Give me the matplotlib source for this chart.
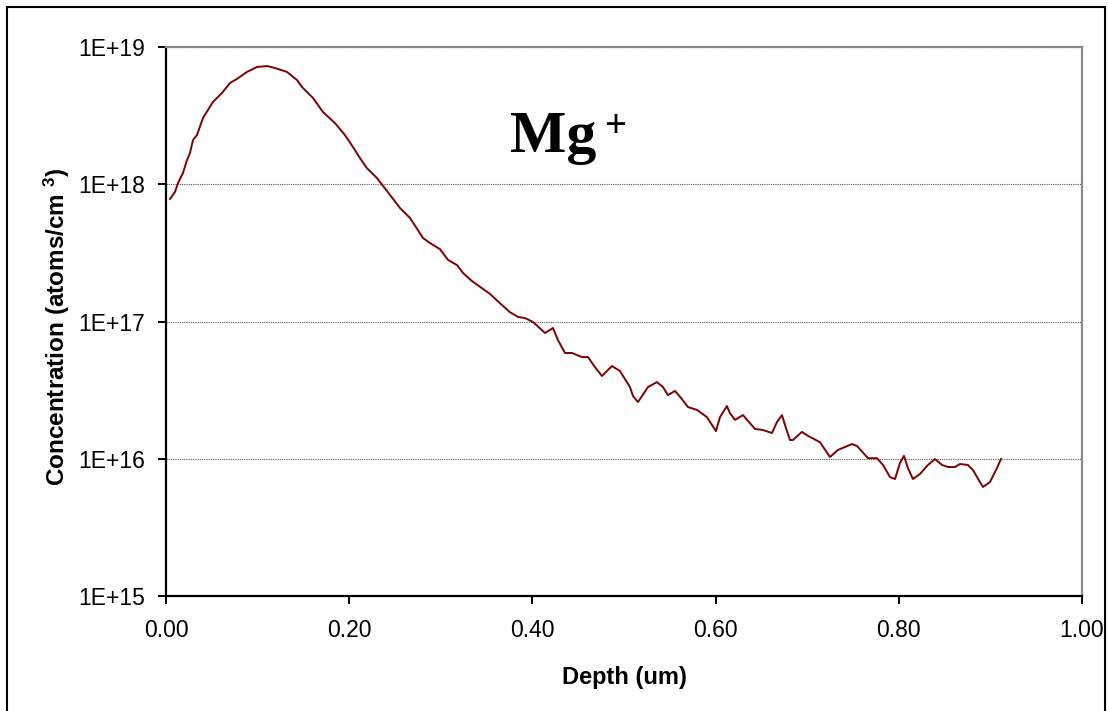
import math
import matplotlib
matplotlib.use("Agg")
import matplotlib.pyplot as plt
from matplotlib.ticker import FixedLocator, FuncFormatter, NullLocator
from matplotlib.patches import Rectangle

plt.rcParams["font.family"] = ["Liberation Sans", "DejaVu Sans"]
plt.rcParams["mathtext.fontset"] = "custom"
plt.rcParams["mathtext.rm"] = "Liberation Sans:bold"
plt.rcParams["mathtext.it"] = "Liberation Sans:bold"
plt.rcParams["mathtext.bf"] = "Liberation Sans:bold"

# SIMS 深度剖面数据 (Mg+)
depth = [0.0044, 0.0098, 0.0131, 0.0186, 0.0229, 0.0262, 0.0295, 0.0338, 0.0404, 0.0513,
         0.0611, 0.0699, 0.0775, 0.0884, 0.0993, 0.1103, 0.1190, 0.1321, 0.1430, 0.1485,
         0.1605, 0.1714, 0.1845, 0.1954, 0.2041, 0.2118, 0.2194, 0.2303, 0.2413, 0.2555,
         0.2664, 0.2806, 0.2882, 0.2991, 0.3079, 0.3177, 0.3242, 0.3341, 0.3537, 0.3646,
         0.3755, 0.3843, 0.3919, 0.4007, 0.4138, 0.4225, 0.4279, 0.4356, 0.4432, 0.4541,
         0.4607, 0.4683, 0.4760, 0.4869, 0.4956, 0.5066, 0.5098, 0.5153, 0.5262, 0.5360,
         0.5426, 0.5480, 0.5557, 0.5633, 0.5699, 0.5797, 0.5906, 0.6004, 0.6048, 0.6124,
         0.6157, 0.6212, 0.6299, 0.6430, 0.6518, 0.6616, 0.6670, 0.6725, 0.6769, 0.6812,
         0.6845, 0.6943, 0.7009, 0.7140, 0.7249, 0.7336, 0.7489, 0.7544, 0.7664, 0.7762,
         0.7828, 0.7904, 0.7959, 0.8013, 0.8057, 0.8100, 0.8155, 0.8231, 0.8319, 0.8395,
         0.8472, 0.8537, 0.8614, 0.8668, 0.8755, 0.8810, 0.8886, 0.8919, 0.8996, 0.9072,
         0.9116]
conc = [7.81e17, 8.78e17, 1.02e18, 1.21e18, 1.50e18, 1.69e18, 2.10e18, 2.28e18, 3.04e18, 3.98e18,
        4.62e18, 5.47e18, 5.85e18, 6.58e18, 7.15e18, 7.27e18, 7.03e18, 6.58e18, 5.75e18, 5.11e18,
        4.25e18, 3.36e18, 2.79e18, 2.28e18, 1.87e18, 1.55e18, 1.31e18, 1.11e18, 8.93e17, 6.71e17,
        5.68e17, 4.06e17, 3.73e17, 3.37e17, 2.81e17, 2.58e17, 2.26e17, 1.97e17, 1.59e17, 1.36e17,
        1.17e17, 1.08e17, 1.06e17, 9.92e16, 8.25e16, 8.97e16, 7.33e16, 5.90e16, 5.90e16, 5.51e16,
        5.51e16, 4.66e16, 4.01e16, 4.74e16, 4.36e16, 3.33e16, 2.87e16, 2.59e16, 3.33e16, 3.62e16,
        3.33e16, 2.91e16, 3.12e16, 2.72e16, 2.38e16, 2.27e16, 2.01e16, 1.59e16, 2.01e16, 2.42e16,
        2.15e16, 1.92e16, 2.08e16, 1.65e16, 1.62e16, 1.54e16, 1.85e16, 2.08e16, 1.67e16, 1.37e16,
        1.37e16, 1.57e16, 1.47e16, 1.32e16, 1.03e16, 1.16e16, 1.28e16, 1.24e16, 1.01e16, 1.01e16,
        9.01e15, 7.36e15, 7.12e15, 9.31e15, 1.05e16, 8.56e15, 7.12e15, 7.74e15, 9.01e15, 9.96e15,
        9.01e15, 8.71e15, 8.71e15, 9.16e15, 9.01e15, 8.28e15, 6.77e15, 6.23e15, 6.77e15, 8.56e15,
        9.96e15]

x_ticks = [0.0, 0.2, 0.4, 0.6, 0.8, 1.0]
y_ticks = [1e15, 1e16, 1e17, 1e18, 1e19]

fig = plt.figure(figsize=(11.08, 7.11), dpi=100)
ax = fig.add_axes([0.1498, 0.1617, 0.8267, 0.7722])

ax.plot(depth, conc, color='#800000', linewidth=1.4)

ax.set_yscale('log')
ax.set_xlim(0, 1)
ax.set_ylim(1e15, 1e19)
ax.xaxis.set_major_locator(FixedLocator(x_ticks))
ax.yaxis.set_major_locator(FixedLocator(y_ticks))
ax.yaxis.set_minor_locator(NullLocator())
ax.xaxis.set_major_formatter(FuncFormatter(lambda v, p: '%.2f' % v))
ax.yaxis.set_major_formatter(FuncFormatter(lambda v, p: '1E+%d' % round(math.log10(v))))
ax.tick_params(axis='both', direction='out', length=5.8, width=1.4, labelsize=16.5)
ax.tick_params(axis='x', pad=11)
ax.tick_params(axis='y', pad=9.5)

# 网格线 (点线)
ax.yaxis.grid(True, linestyle=(0, (1, 1)), color='#555555', linewidth=0.8)
ax.set_axisbelow(True)

for s in ['left', 'bottom']:
    ax.spines[s].set_color('black')
    ax.spines[s].set_linewidth(1.6)
for s in ['top', 'right']:
    ax.spines[s].set_color('#8c8c8c')
    ax.spines[s].set_linewidth(1.6)

ax.set_xlabel('Depth (um)', fontsize=17, fontweight='bold', labelpad=17)
ax.set_ylabel('Concentration (atoms/cm $^{3}$)', fontsize=17.5, fontweight='bold')
ax.yaxis.set_label_coords(-0.103, 0.49)

ax.text(0.3755, 0.8087, 'Mg', transform=ax.transAxes, family=['Liberation Serif'],
        fontweight='bold', fontsize=43, va='baseline', ha='left')
ax.text(0.491, 0.853, '+', transform=ax.transAxes, family=['Liberation Serif'],
        fontweight='bold', fontsize=28, va='center', ha='center')

# 外框
fig.patches.append(Rectangle((7 / 1108, -0.05), 1098 / 1108, 1.05 - 7 / 711,
                             transform=fig.transFigure, fill=False,
                             edgecolor='black', linewidth=1.5))

fig.savefig('out.png', dpi=100)
